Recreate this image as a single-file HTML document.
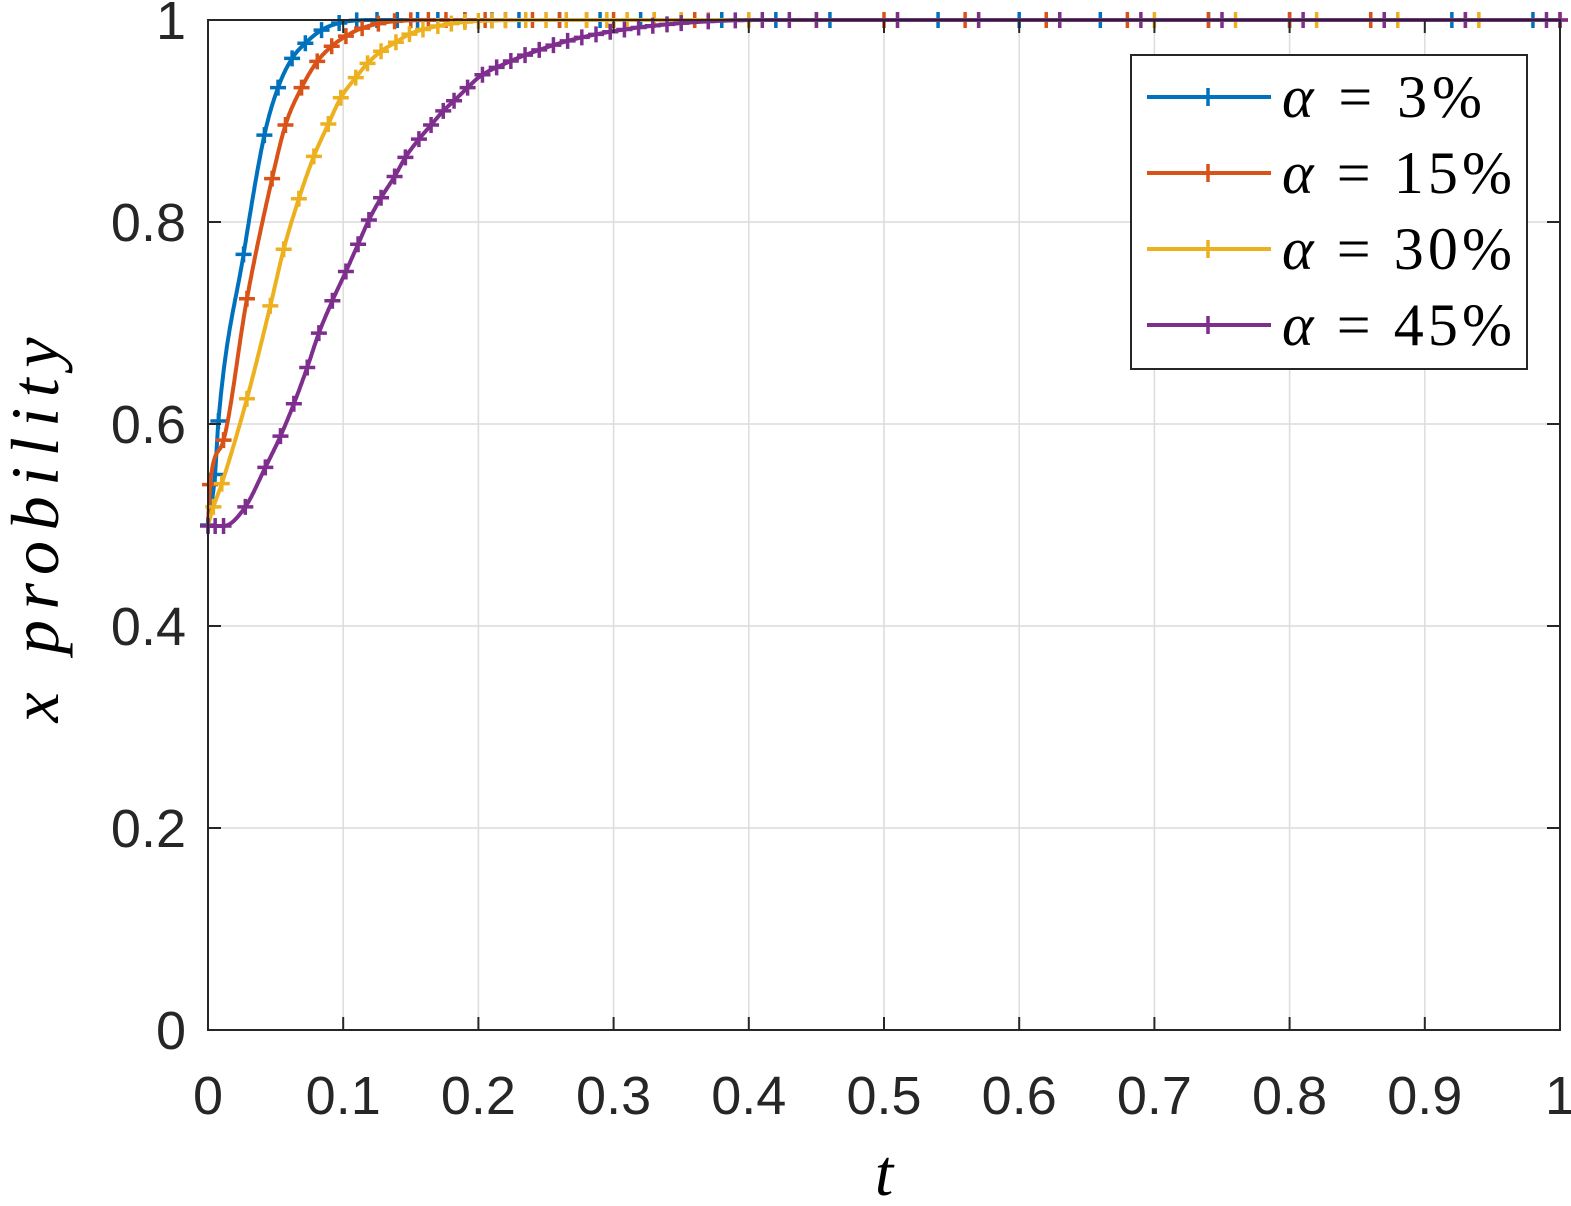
<!DOCTYPE html>
<html><head><meta charset="utf-8"><style>
html,body{margin:0;padding:0;background:#fff}
svg{display:block}
.tk{font-family:"Liberation Sans",sans-serif;font-size:54px;fill:#262626}
.lg{font-family:"Liberation Serif",serif;font-size:60px;fill:#000}
</style></head><body>
<svg id="s" width="1571" height="1206" xmlns="http://www.w3.org/2000/svg">
<g id="grid" stroke="#dcdcdc" stroke-width="1.5"></g>
<g id="series"></g>
<rect x="208" y="20" width="1352" height="1010" fill="none" stroke="#262626" stroke-width="2"/>
<g id="ticks" stroke="#262626" stroke-width="2"></g>
<g id="labels"></g>
<text x="884" y="1195" font-family="Liberation Serif,serif" font-style="italic" font-size="66" text-anchor="middle">t</text>
<text transform="translate(58,530) rotate(-90)" font-family="Liberation Serif,serif" font-style="italic" font-size="68" text-anchor="middle" textLength="385" lengthAdjust="spacing">x  probility</text>
<g id="legend">
<rect x="1131" y="55" width="396" height="314" fill="#fff" stroke="#262626" stroke-width="2"/>
</g>
</svg>
<script>
const NS="http://www.w3.org/2000/svg";
function el(p,t,a,txt){const e=document.createElementNS(NS,t);for(const k in a)e.setAttribute(k,a[k]);if(txt!==undefined)e.textContent=txt;document.getElementById(p).appendChild(e);return e;}
const X=t=>208+t*1352, Y=v=>1030-v*1010;
for(let i=1;i<10;i++){el('grid','line',{x1:X(i/10),x2:X(i/10),y1:20,y2:1030});}
for(let i=1;i<5;i++){el('grid','line',{x1:208,x2:1560,y1:Y(i/5),y2:Y(i/5)});}
for(let i=0;i<=10;i++){const x=X(i/10);el('ticks','line',{x1:x,x2:x,y1:1030,y2:1017});el('ticks','line',{x1:x,x2:x,y1:20,y2:33});
 const lab=i==0?'0':i==10?'1':'0.'+i;el('labels','text',{x:x,y:1114,'text-anchor':'middle',class:'tk'},lab);}
for(let i=0;i<=5;i++){const y=Y(i/5);el('ticks','line',{x1:208,x2:221,y1:y,y2:y});el('ticks','line',{x1:1560,x2:1547,y1:y,y2:y});
 const lab=i==0?'0':i==5?'1':'0.'+(2*i);el('labels','text',{x:186,y:y+19,'text-anchor':'end',class:'tk'},lab);}
function mono(P){const n=P.length,xs=P.map(p=>p[0]),ys=P.map(p=>p[1]),d=[],m=[];
 for(let i=0;i<n-1;i++)d.push((ys[i+1]-ys[i])/(xs[i+1]-xs[i]));
 m[0]=d[0];m[n-1]=d[n-2];for(let i=1;i<n-1;i++){m[i]=(d[i-1]*d[i]<=0)?0:(d[i-1]+d[i])/2;}
 for(let i=0;i<n-1;i++){if(d[i]==0){m[i]=0;m[i+1]=0;continue;}const a=m[i]/d[i],b=m[i+1]/d[i],h=a*a+b*b;if(h>9){const t=3/Math.sqrt(h);m[i]=t*a*d[i];m[i+1]=t*b*d[i];}}
 return x=>{if(x<=xs[0])return ys[0];if(x>=xs[n-1])return ys[n-1];let i=0;while(x>xs[i+1])i++;const h=xs[i+1]-xs[i],s=(x-xs[i])/h;
 return (2*s*s*s-3*s*s+1)*ys[i]+(s*s*s-2*s*s+s)*h*m[i]+(-2*s*s*s+3*s*s)*ys[i+1]+(s*s*s-s*s)*h*m[i+1];};}
const S=[
 {c:'#0072BD',p:[[0,.5],[.0052,.55],[.0077,.603],[.0263,.768],[.0417,.886],[.0518,.933],[.0622,.962],[.072,.977],[.084,.99],[.097,.997],[.12,1],[1,1]],
  mk:[0,.0052,.0077,.0263,.0417,.0518,.0622,.072,.084,.097,.11,.125,.14,.155,.17,.19,.21,.23,.26,.29,.32,.35,.38,.42,.46,.54,.6,.66,.74,.8,.86,.92,.98]},
 {c:'#D95319',p:[[0,.5],[.0015,.54],[.0115,.584],[.0288,.724],[.0474,.843],[.0573,.896],[.0692,.933],[.0808,.959],[.0915,.974],[.102,.984],[.114,.992],[.14,.999],[.17,1],[1,1]],
  mk:[.0015,.0115,.0288,.0474,.0573,.0692,.0808,.0915,.102,.114,.126,.138,.15,.163,.176,.19,.205,.22,.24,.26,.28,.3,.33,.36,.4,.45,.5,.56,.62,.68,.74,.8,.86,.93,1]},
 {c:'#EDB120',p:[[0,.5],[.004,.518],[.0102,.541],[.0288,.625],[.0461,.717],[.056,.773],[.0672,.823],[.0783,.865],[.089,.897],[.0982,.923],[.1093,.943],[.118,.957],[.128,.969],[.139,.978],[.149,.986],[.17,.994],[.2,.999],[.25,1],[1,1]],
  mk:[.004,.0102,.0288,.0461,.056,.0672,.0783,.089,.0982,.1093,.118,.128,.139,.149,.159,.17,.18,.19,.2,.21,.22,.235,.25,.265,.28,.295,.31,.33,.35,.37,.4,.45,.51,.57,.63,.7,.76,.82,.88,.94,1]},
 {c:'#7E2F8E',p:[[0,.499],[.0115,.499],[.0276,.518],[.0424,.557],[.0536,.588],[.0635,.62],[.0734,.656],[.082,.69],[.092,.722],[.102,.751],[.111,.778],[.119,.802],[.128,.824],[.138,.845],[.146,.864],[.156,.882],[.165,.896],[.174,.91],[.182,.92],[.192,.933],[.201,.944],[.22,.957],[.238,.967],[.268,.98],[.305,.99],[.351,.997],[.41,1],[1,1]],
  mk:(()=>{const a=[0,.0053,.0115,.0276,.0424,.0536,.0635,.0734,.082,.092,.102,.111,.119,.128,.138,.146,.156,.165,.174,.182,.192,.203];let t=.203;while(t<.35){t+=.0105;a.push(t);}while(t<.45){t+=.02;a.push(t);}while(t<.97){t+=.06;a.push(t);}a.push(1);return a;})()}
];
S.forEach((s,k)=>{const f=mono(s.p);let d='';for(let i=0;i<=2000;i++){const t=i/2000;d+=(i?'L':'M')+X(t).toFixed(1)+' '+Y(f(t)).toFixed(1);}
 el('series','path',{d:d,fill:'none',stroke:s.c,'stroke-width':4,'stroke-linejoin':'round'});
 let m='';s.mk.forEach(t=>{if(t>1)return;const x=X(t),y=Y(f(t));m+=`M${x-8} ${y}h16M${x} ${y-8}v16`;});
 el('series','path',{d:m,fill:'none',stroke:s.c,'stroke-width':3.5});
 const ly=97+k*76;el('legend','line',{x1:1147,x2:1271,y1:ly,y2:ly,stroke:s.c,'stroke-width':4});
 el('legend','path',{d:`M1200 ${ly}h16M1208 ${ly-9}v18`,stroke:s.c,'stroke-width':3.5});
 const lab=['3%','15%','30%','45%'][k];
 const t=el('legend','text',{x:1282,y:ly+20,class:'lg',textLength:(k==0?200:230),lengthAdjust:'spacing'});
 const a=document.createElementNS(NS,'tspan');a.setAttribute('font-style','italic');a.textContent='α';t.appendChild(a);
 t.appendChild(document.createTextNode(' = '+lab));
});
</script>
</body></html>
